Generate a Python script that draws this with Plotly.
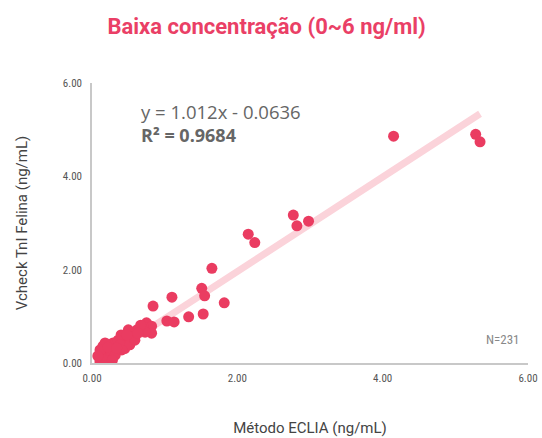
import plotly.graph_objects as go

# Scatter data: Método ECLIA (x) vs Vcheck TnI Felina (y), ng/mL
eclia = [4.15, 5.28, 5.34, 2.77, 2.82, 2.98, 2.15, 2.24, 1.65, 1.51, 1.55, 1.82,
         1.10, 0.84, 1.53, 1.33, 1.03, 1.13, 0.75, 0.82,
         0.82, 0.70, 0.62, 0.50, 0.57, 0.45, 0.45, 0.29, 0.18, 0.13, 0.11, 0.73,
         0.48, 0.21, 0.15, 0.40, 0.67, 0.36, 0.25, 0.32, 0.11, 0.17, 0.08, 0.39,
         0.52, 0.59, 0.63, 0.28, 0.22, 0.41, 0.34, 0.48]
vcheck = [4.86, 4.90, 4.74, 3.17, 2.94, 3.04, 2.76, 2.58, 2.03, 1.60, 1.44, 1.29,
          1.41, 1.22, 1.05, 0.99, 0.90, 0.88, 0.86, 0.79,
          0.64, 0.78, 0.71, 0.71, 0.56, 0.49, 0.31, 0.43, 0.43, 0.21, 0.03, 0.66,
          0.43, 0.13, 0.36, 0.60, 0.81, 0.49, 0.28, 0.17, 0.28, 0.06, 0.15, 0.39,
          0.39, 0.49, 0.64, 0.06, 0.34, 0.28, 0.32, 0.60]

# Trendline coefficients (from the chart's equation)
slope = 1.012
intercept = -0.0636
trend_x = [min(eclia), max(eclia)]
trend_y = [slope * v + intercept for v in trend_x]

tick_vals = [0, 2, 4, 6]
tick_text = ["0.00", "2.00", "4.00", "6.00"]

fig = go.Figure()
fig.add_trace(go.Scatter(x=trend_x, y=trend_y, mode="lines",
                         line=dict(color="#fbd3da", width=7), hoverinfo="skip"))
fig.add_trace(go.Scatter(x=eclia, y=vcheck, mode="markers",
                         marker=dict(color="#ea3c61", size=11, line=dict(width=0))))

axis_font = dict(family="Roboto Condensed, Liberation Sans Narrow, Roboto, sans-serif", size=11, color="#555")
fig.update_layout(
    width=542, height=438,
    margin=dict(l=92, r=14, t=83, b=75),
    paper_bgcolor="white", plot_bgcolor="white",
    showlegend=False,
    title=dict(text="<b>Baixa concentração (0~6 ng/ml)</b>", x=0.492, xanchor="center", y=0.94, yanchor="middle",
               font=dict(family="Roboto, sans-serif", size=22, color="#ea3f66")),
    xaxis=dict(range=[0, 6], tickvals=tick_vals, ticktext=tick_text, showgrid=False, zeroline=False,
               automargin=False,
               showline=True, linecolor="#c8c8c8", linewidth=2, tickfont=axis_font, ticks="",
               ticklabelstandoff=4,
               title=dict(text="Método ECLIA (ng/mL)", standoff=38,
                          font=dict(family="Roboto, sans-serif", size=15, color="#444"))),
    yaxis=dict(range=[0, 6], tickvals=tick_vals, ticktext=tick_text, showgrid=False, zeroline=False,
               automargin=False,
               showline=True, linecolor="#c8c8c8", linewidth=1.5, tickfont=axis_font, ticks="",
               ticklabelstandoff=6,
               title=dict(text="Vcheck TnI Felina (ng/mL)", standoff=32,
                          font=dict(family="Roboto, sans-serif", size=15, color="#444"))),
    annotations=[
        dict(text="y = 1.012x - 0.0636", xref="paper", yref="paper", x=(139 - 92) / 436, y=(363 - 111) / 280,
             xanchor="left", yanchor="middle", showarrow=False,
             font=dict(family="Open Sans, sans-serif", size=18.5, color="#666")),
        dict(text="<b>R² = 0.9684</b>", xref="paper", yref="paper", x=(139 - 92) / 436, y=(363 - 135) / 280,
             xanchor="left", yanchor="middle", showarrow=False,
             font=dict(family="Open Sans, sans-serif", size=18, color="#666")),
        dict(text="N=231", xref="paper", yref="paper", x=(522 - 92) / 436, y=(363 - 339) / 280,
             xanchor="right", yanchor="middle", showarrow=False,
             font=dict(family="Roboto Condensed, Liberation Sans Narrow, Roboto, sans-serif", size=13, color="#888")),
    ],
)

fig.write_html("out.html", config={"displayModeBar": False},
               post_script="document.body.style.margin='0';")
